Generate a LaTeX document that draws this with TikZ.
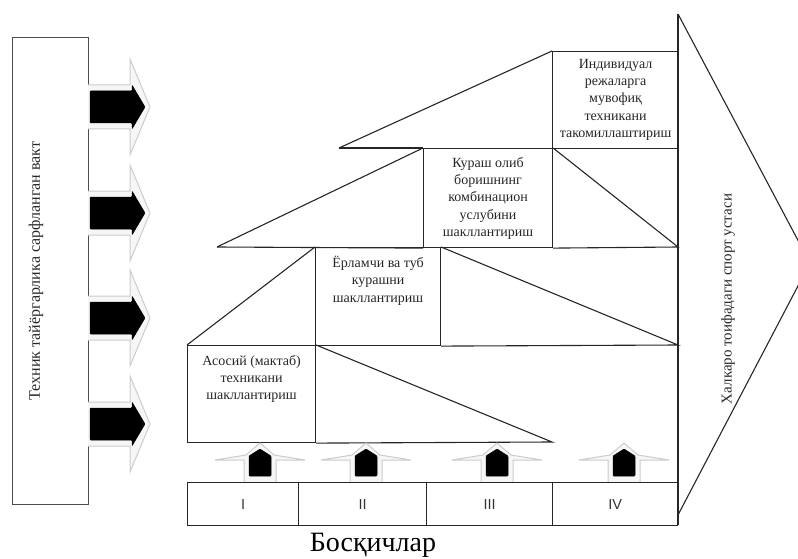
\documentclass[tikz,border=0pt]{standalone}
\usepackage{fontspec}
\setmainfont{Liberation Serif}
\newfontfamily\sansf{Liberation Sans}
\usetikzlibrary{calc}
\begin{document}
\begin{tikzpicture}[x=1pt,y=-1pt,
  ln/.style={line width=1.1pt, draw=black!85},
  cell/.style={ln, inner sep=0pt, anchor=north west},
  stagebox/.style={cell, line width=1.3pt, minimum height=43pt, font=\sansf\fontsize{14.5}{16}\selectfont, text=black!80},
  btext/.style={inner sep=0pt, anchor=north, align=center, font=\fontsize{14}{17.3}\selectfont, text=black!85},
  vtext/.style={inner sep=0pt, rotate=90, text=black!85},
  shade/.style={fill=gray!7, draw=gray!40, line width=1pt},
  blk/.style={fill=black, draw=black, line width=0.5pt, rounded corners=0.8pt}
]
\useasboundingbox (0,0) rectangle (798,559);

% left box with vertical text
\node[cell, draw=black!70, minimum width=76pt, minimum height=467pt] (lb) at (12,37) {};
\node[vtext, font=\fontsize{16}{18}\selectfont] (lt) at (36,271) {Техник тайёргарлика сарфланган вакт};

% right-pointing block arrows
\foreach \c [count=\i] in {107,213,318,424}{
  \path[shade] (88,\c-22) -- (130,\c-22) -- (130,\c-48) -- (150,\c) -- (130,\c+48) -- (130,\c+22) -- (88,\c+22);
  \fill[blk] (90,\c-16) -- (132,\c-16) -- (132,\c-22) -- (145,\c) -- (132,\c+22) -- (132,\c+16) -- (90,\c+16) -- cycle;
}

% step boxes
\node[cell, minimum width=126pt, minimum height=97pt] (b4) at (552,51) {};
\node[cell, minimum width=129pt, minimum height=99pt] (b3) at (423,148) {};
\node[cell, minimum width=125pt, minimum height=98pt] (b2) at (315,247) {};
\node[cell, minimum width=128pt, minimum height=97pt] (b1) at (187,345) {};

\node[btext] (t4) at ($(b4.north)+(0,8)$) {Индивидуал\\режаларга\\мувофиқ\\техникани\\такомиллаштириш};
\node[btext] (t3) at ($(b3.north)+(0,9)$) {Кураш олиб\\боришнинг\\комбинацион\\услубини\\шакллантириш};
\node[btext] (t2) at ($(b2.north)+(0,9)$) {Ёрламчи ва туб\\курашни\\шакллантириш};
\node[btext] (t1) at ($(b1.north)+(0,10)$) {Асосий (мактаб)\\техникани\\шакллантириш};

% wedges and diagonals
\coordinate (w1) at (339,148);
\coordinate (w2) at (217,247);
\coordinate (w3) at (187,345);
\coordinate (w4) at (552,442);
\coordinate (r1) at (678,247);
\coordinate (r2) at (678,345);
\coordinate (vt) at (678,14);
\coordinate (vb) at (678,525);
\coordinate (tb) at (678,515);
\coordinate (tip) at (810,263);

\draw[ln] (w1) -- (b4.north west);
\draw[ln] (w1) -- (b3.north west);
\draw[ln] (w2) -- (b3.north west);
\draw[ln] (w2) -- (b3.south west);
\draw[ln] (b3.north east) -- (r1) -- (b3.south east);
\draw[ln] (w3) -- (b2.north west);
\draw[ln] (b2.north east) -- (r2) -- (b2.south east);
\draw[ln] (b1.north east) -- (w4) -- (b1.south east);

% right edge and big triangle
\draw[ln] (vt) -- (vb);
\begin{scope}
\clip (0,0) rectangle (798,559);
\draw[ln] (vt) -- (tip) -- (tb);
\end{scope}
\node[vtext, font=\fontsize{15}{18}\selectfont] (rt) at (728,299) {Халкаро тоифадаги спорт устаси};

% upward block arrows
\foreach \x in {260,366,497,624}{
  \path[shade] (\x-16,482) -- (\x-16,460) -- (\x-45,460) -- (\x-14,455) -- (\x,443) -- (\x+14,455) -- (\x+45,460) -- (\x+16,460) -- (\x+16,482);
  \fill[blk] (\x-11,476) -- (\x-11,456) -- (\x,449) -- (\x+11,456) -- (\x+11,476) -- cycle;
}

% stages
\node[stagebox, minimum width=111pt] (s1) at (187,482) {I};
\node[stagebox, minimum width=128pt] (s2) at (298,482) {II};
\node[stagebox, minimum width=126pt] (s3) at (426,482) {III};
\node[stagebox, minimum width=125pt] (s4) at (552,482) {IV};

\node[anchor=base, inner sep=0pt, font=\fontsize{28}{30}\selectfont] (st) at (373,551) {Босқичлар};
\end{tikzpicture}
\end{document}
